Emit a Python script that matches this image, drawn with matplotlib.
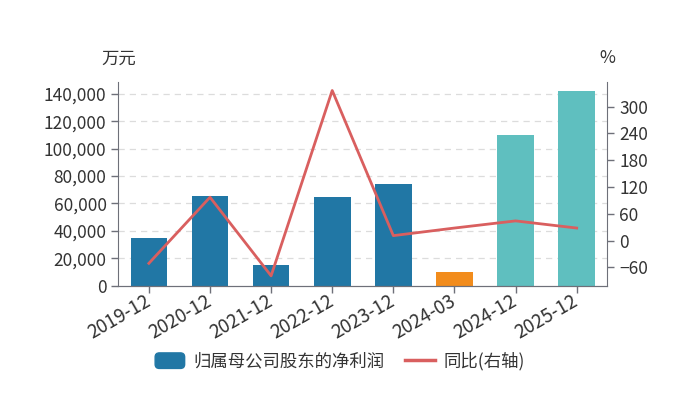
import numpy as np
import matplotlib
matplotlib.use('Agg')
import matplotlib.pyplot as plt
from matplotlib.patches import Patch, FancyBboxPatch
from matplotlib.lines import Line2D
from matplotlib.legend_handler import HandlerPatch
from matplotlib.ticker import FuncFormatter

plt.rcParams['font.family'] = ['Noto Sans CJK SC', 'DejaVu Sans']

periods = ['2019-12', '2020-12', '2021-12', '2022-12', '2023-12', '2024-03', '2024-12', '2025-12']
profit = [35000, 65300, 15100, 64800, 74500, 9800, 109800, 142400]
yoy = [-51, 97, -79, 336, 11, 28, 44, 28]
bar_colors = ['#2177a5', '#2177a5', '#2177a5', '#2177a5', '#2177a5', '#f28c1c', '#5fbfbf', '#5fbfbf']
left_ticks = [0, 20000, 40000, 60000, 80000, 100000, 120000, 140000]
right_ticks = [-60, 0, 60, 120, 180, 240, 300]

txt = '#333333'
axc = '#6e7079'

fig = plt.figure(figsize=(6.8, 3.94), dpi=100)
ax = fig.add_axes([0.174, 0.275, 0.719, 0.518])
x = np.arange(len(periods))
ax.bar(x, profit, width=0.6, color=bar_colors, zorder=2)
ax.set_xlim(-0.5, len(periods) - 0.5)
ax.set_ylim(0, 149000)
ax.set_yticks(left_ticks)
ax.yaxis.set_major_formatter(FuncFormatter(lambda v, p: f'{int(v):,}'))
for v in left_ticks[1:]:
    ax.axhline(v, color='#dcdcdc', lw=0.9, ls=(0, (5, 4)), zorder=1)
ax.set_xticks(x)
ax.set_xticklabels(periods, rotation=30, ha='right', va='center',
                   rotation_mode='anchor', fontsize=13.5)

ax2 = ax.twinx()
ax2.plot(x, yoy, color='#d95f5f', lw=2, zorder=3)
ax2.set_ylim(-101, 356)
ax2.set_yticks(right_ticks)

for a in (ax, ax2):
    a.spines['top'].set_visible(False)
    for s in ('left', 'right', 'bottom'):
        a.spines[s].set_color(axc)
    a.tick_params(axis='y', colors=axc, labelcolor=txt, labelsize=12.5, length=5, width=1)
ax.tick_params(axis='x', colors=axc, labelcolor=txt, length=5, width=1, pad=5)
ax.spines['right'].set_visible(False)
ax2.spines['left'].set_visible(False)

fig.text(0.174, 0.85, '万元', ha='center', va='center', fontsize=12.5, color=txt)
fig.text(0.893, 0.853, '%', ha='center', va='center', fontsize=12.5, color=txt)


def rounded(legend, orig_handle, xdescent, ydescent, width, height, fontsize):
    return FancyBboxPatch((-xdescent, -ydescent), width, height,
                          boxstyle='round,pad=0,rounding_size=3')


handles = [Patch(color='#2177a5'), Line2D([0], [0], color='#d95f5f', lw=2.5)]
fig.legend(handles, ['归属母公司股东的净利润', '同比(右轴)'], loc='center',
           bbox_to_anchor=(0.5, 0.083), ncol=2, frameon=False, fontsize=12.5,
           handlelength=1.7, handleheight=1.0, handletextpad=0.5, columnspacing=1.2,
           labelcolor=txt, handler_map={Patch: HandlerPatch(patch_func=rounded)})

fig.savefig('out.png', dpi=100)
plt.close(fig)
